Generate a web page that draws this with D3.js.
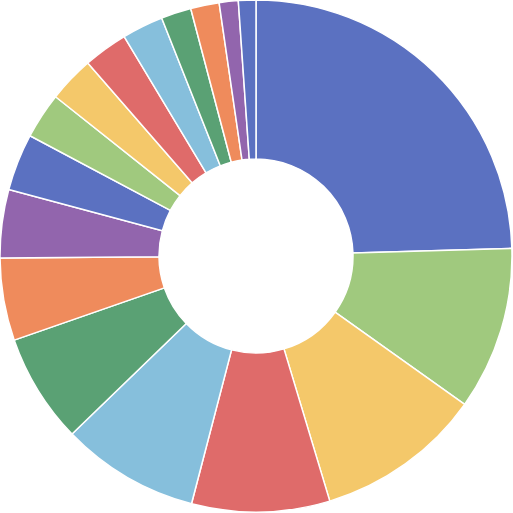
<!DOCTYPE html>
<html>
<head>
<meta charset="utf-8">
<script src="https://cdn.jsdelivr.net/npm/d3@7"></script>
<style>
  html, body { margin: 0; padding: 0; background: #fff; }
  .chart { width: 513px; height: 513px; }
</style>
</head>
<body>
<div class="chart"></div>
<script>
// Data
const categories = ['A', 'B', 'C', 'D', 'E', 'F', 'G', 'H', 'I', 'J', 'K', 'L', 'M', 'N', 'O', 'P', 'Q']
const values = [24.5, 10.3, 10.5, 8.7, 8.7, 6.9, 5.2, 4.3, 3.6, 2.9, 2.9, 2.8, 2.6, 1.9, 1.8, 1.2, 1.1]
const palette = ['#5b71c1', '#a0c97e', '#f4c86a', '#df6b6a', '#86bfdc', '#5aa174', '#ef8b5c', '#9265ad']

const data = categories.map((c, i) => ({ name: c, value: values[i] }))

// Dimensions
const dimensions = {
  width: 513,
  height: 513,
  cx: 256,
  cy: 256,
  outer: 256,
  inner: 97
}

const color = d3.scaleOrdinal()
  .domain(categories)
  .range(palette)

const pieGen = d3.pie()
  .sort(null)
  .value(d => d.value)

const arcGen = d3.arc()
  .innerRadius(dimensions.inner)
  .outerRadius(dimensions.outer)

const svg = d3.select('.chart')
  .append('svg')
  .attr('width', dimensions.width)
  .attr('height', dimensions.height)

const g = svg.append('g')
  .attr('transform', `translate(${dimensions.cx},${dimensions.cy})`)

g.selectAll('path')
  .data(pieGen(data))
  .join('path')
  .attr('d', arcGen)
  .attr('fill', d => color(d.data.name))
  .attr('stroke', '#fff')
  .attr('stroke-width', 1.5)
  .attr('stroke-linejoin', 'round')
</script>
</body>
</html>
